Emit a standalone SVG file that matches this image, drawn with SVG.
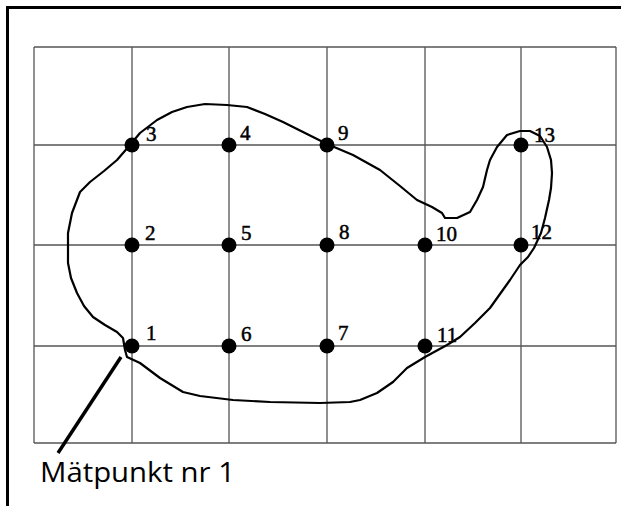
<svg xmlns="http://www.w3.org/2000/svg" width="621" height="506" viewBox="0 0 621 506">
<style>
.grid{stroke:#555;stroke-width:1.3;fill:none}
.dot{fill:#000}
.lbl{font-family:"Liberation Serif","Times New Roman",serif;font-size:21px;fill:#000;stroke:#000;stroke-width:0.5}
.outline{fill:none;stroke:#000;stroke-width:2.2;stroke-linejoin:round}
</style>
<rect width="621" height="506" fill="#fff"/>
<path d="M7.5 506 V7.5 H621" fill="none" stroke="#000" stroke-width="3"/>
<g id="grid" class="grid">
<path d="M34 47 H616 M34 145 H616 M34 245 H616 M34 346 H616 M34 443 H616"/>
<path d="M34 47 V443 M132 47 V443 M229 47 V443 M327 47 V443 M425 47 V443 M521 47 V443 M616 47 V443"/>
</g>
<g id="outline">
<path class="outline" d="M130 145 L140 133 L157 120 L172 112 L187 107 L205 104 L227 105 L247 107 L265 114 L283 122 L305 133 L327 144 L353 155 L380 170 L400 186 L417 200 L432 207 L442 213 L445 218 L457 218 L470 212 L477 200 L483 187 L487 170 L490 160 L497 147 L507 135 L520 131 L530 131 L540 136 L547 147 L551 160 L552 173 L551 188 L549 200 L545 218 L541 233 L534 248 L528 257 L520 265 L510 280 L490 308 L475 323 L460 337 L447 345 L425 357 L407 368 L393 382 L377 393 L360 400 L350 402 L320 403 L270 402 L233 400 L200 396 L183 392 L160 378 L140 363 L127 357 L125 350 L123 338 L117 332 L105 325 L93 317 L84 306 L77 293 L71 278 L68 263 L68 233 L72 213 L80 192 L90 182 L104 171 L117 160 Z"/>
</g>
<g id="connectors">
<line x1="58" y1="453" x2="121" y2="357" stroke="#000" stroke-width="3.5"/>
</g>
<g id="node-1"><circle class="dot" cx="132" cy="346" r="7.5"/><text class="lbl" x="146" y="340">1</text></g>
<g id="node-2"><circle class="dot" cx="132" cy="245" r="7.5"/><text class="lbl" x="145" y="240">2</text></g>
<g id="node-3"><circle class="dot" cx="132" cy="145" r="7.5"/><text class="lbl" x="146" y="141">3</text></g>
<g id="node-4"><circle class="dot" cx="229" cy="145" r="7.5"/><text class="lbl" x="240" y="140">4</text></g>
<g id="node-5"><circle class="dot" cx="229" cy="245" r="7.5"/><text class="lbl" x="241" y="240">5</text></g>
<g id="node-6"><circle class="dot" cx="229" cy="346" r="7.5"/><text class="lbl" x="241" y="341">6</text></g>
<g id="node-7"><circle class="dot" cx="327" cy="346" r="7.5"/><text class="lbl" x="338" y="340">7</text></g>
<g id="node-8"><circle class="dot" cx="327" cy="245" r="7.5"/><text class="lbl" x="339" y="239">8</text></g>
<g id="node-9"><circle class="dot" cx="327" cy="145" r="7.5"/><text class="lbl" x="338" y="140">9</text></g>
<g id="node-10"><circle class="dot" cx="425" cy="245" r="7.5"/><text class="lbl" x="436" y="241">10</text></g>
<g id="node-11"><circle class="dot" cx="425" cy="346" r="7.5"/><text class="lbl" x="437" y="342">11</text></g>
<g id="node-12"><circle class="dot" cx="521" cy="245" r="7.5"/><text class="lbl" x="531" y="239">12</text></g>
<g id="node-13"><circle class="dot" cx="521" cy="145" r="7.5"/><text class="lbl" x="534" y="142">13</text></g>
<g id="caption"><text x="40" y="482" font-family="'Open Sans','Liberation Sans',sans-serif" font-size="27" textLength="195" lengthAdjust="spacingAndGlyphs" fill="#000">Mätpunkt nr 1</text></g>
</svg>
